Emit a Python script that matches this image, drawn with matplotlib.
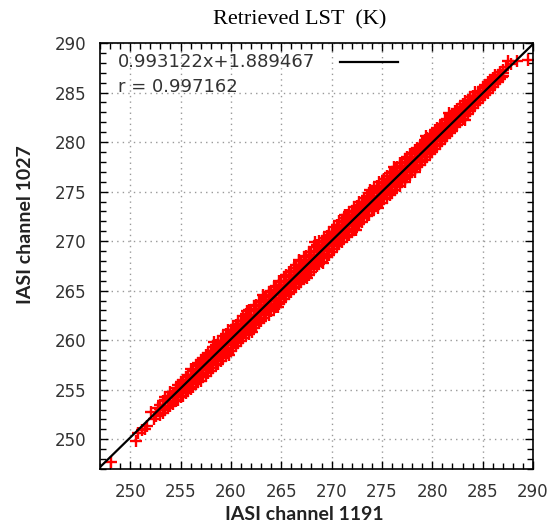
import numpy as np
import matplotlib.pyplot as plt
from matplotlib.ticker import MultipleLocator

# fit results printed in the key
slope = 0.993122
intercept = 1.889467
r_value = 0.997162

# sparse points at the cold end
low_x = [248.1, 250.6, 250.8, 251.5, 251.7, 252.1, 252.4, 252.6, 252.8, 251.2]
low_y = [247.7, 249.8, 250.6, 251.0, 251.3, 252.8, 252.0, 252.4, 253.2, 250.9]

# sparse points at the warm end
high_x = [287.3, 287.5, 288.4, 289.5, 286.9, 287.8]
high_y = [287.6, 288.2, 288.2, 288.3, 286.6, 287.9]

# stray points sticking out of the band
edge_x = [258.3, 261.6, 263.2, 266.8, 268.4, 271.3, 273.8, 276.2, 279.4, 281.7,
          259.8, 264.7, 269.1, 274.6, 278.3, 283.2, 262.1, 267.6, 272.4, 277.3]
edge_y = [259.8, 262.9, 264.6, 268.1, 269.9, 272.6, 275.2, 277.5, 280.6, 282.9,
          258.5, 263.4, 267.8, 273.3, 277.0, 282.2, 260.8, 266.3, 271.1, 276.0]

# dense band: channel 1191 value and the channel 1027 values seen at it
band_x = [
    253.0, 253.25, 253.5, 253.75, 254.0, 254.25, 254.5, 254.75,
    255.0, 255.25, 255.5, 255.75, 256.0, 256.25, 256.5, 256.75,
    257.0, 257.25, 257.5, 257.75, 258.0, 258.25, 258.5, 258.75,
    259.0, 259.25, 259.5, 259.75, 260.0, 260.25, 260.5, 260.75,
    261.0, 261.25, 261.5, 261.75, 262.0, 262.25, 262.5, 262.75,
    263.0, 263.25, 263.5, 263.75, 264.0, 264.25, 264.5, 264.75,
    265.0, 265.25, 265.5, 265.75, 266.0, 266.25, 266.5, 266.75,
    267.0, 267.25, 267.5, 267.75, 268.0, 268.25, 268.5, 268.75,
    269.0, 269.25, 269.5, 269.75, 270.0, 270.25, 270.5, 270.75,
    271.0, 271.25, 271.5, 271.75, 272.0, 272.25, 272.5, 272.75,
    273.0, 273.25, 273.5, 273.75, 274.0, 274.25, 274.5, 274.75,
    275.0, 275.25, 275.5, 275.75, 276.0, 276.25, 276.5, 276.75,
    277.0, 277.25, 277.5, 277.75, 278.0, 278.25, 278.5, 278.75,
    279.0, 279.25, 279.5, 279.75, 280.0, 280.25, 280.5, 280.75,
    281.0, 281.25, 281.5, 281.75, 282.0, 282.25, 282.5, 282.75,
    283.0, 283.25, 283.5, 283.75, 284.0, 284.25, 284.5, 284.75,
    285.0, 285.25, 285.5, 285.75, 286.0, 286.25, 286.5, 286.75,
    287.0,
]
band_y = [
    [252.5, 253.1, 253.5], [252.7, 253.3, 253.9], [253.0, 253.4, 254.0, 254.3], [253.2, 253.8, 254.2],
    [253.4, 253.8, 254.4, 254.8], [253.6, 254.2, 254.6], [253.9, 254.3, 254.9, 255.2], [254.0, 254.6, 255.0, 255.5],
    [254.3, 254.7, 255.3, 255.8], [254.4, 255.0, 255.6, 256.0], [254.7, 255.1, 255.7, 256.3], [254.9, 255.5, 255.9, 256.5],
    [255.1, 255.7, 256.1, 256.5, 257.1], [255.3, 255.9, 256.3, 256.9], [255.6, 256.0, 256.6, 257.0, 257.5], [255.8, 256.2, 256.8, 257.4, 257.7],
    [255.9, 256.5, 257.1, 257.5, 258.0], [256.3, 256.7, 257.3, 257.9, 258.2], [256.4, 257.0, 257.6, 258.0, 258.5], [256.7, 257.3, 257.7, 258.3, 258.7],
    [256.9, 257.5, 257.9, 258.5, 258.9], [257.2, 257.8, 258.3, 258.9, 259.3], [257.5, 258.1, 258.5, 259.1, 259.5], [257.6, 258.2, 258.7, 259.1, 259.6, 259.9],
    [257.9, 258.3, 258.9, 259.5, 259.9], [258.2, 258.8, 259.3, 259.9, 260.4], [258.4, 259.0, 259.6, 260.0, 260.6], [258.7, 259.1, 259.7, 260.2, 260.6, 261.0],
    [258.9, 259.5, 260.0, 260.4, 261.0], [259.2, 259.8, 260.3, 260.8, 261.4], [259.4, 260.1, 260.5, 261.1, 261.5], [259.7, 260.2, 260.6, 261.2, 261.6, 261.9],
    [259.9, 260.3, 260.9, 261.5, 261.9], [260.2, 260.8, 261.3, 261.9, 262.4], [260.5, 261.1, 261.6, 262.0, 262.6], [260.6, 261.2, 261.7, 262.2, 262.5, 263.0],
    [261.0, 261.4, 262.0, 262.4, 263.0], [261.2, 261.8, 262.3, 262.9, 263.5], [261.5, 262.1, 262.5, 263.1, 263.6], [261.7, 262.1, 262.7, 263.2, 263.6, 264.0],
    [261.9, 262.5, 262.9, 263.5, 263.9], [262.2, 262.7, 263.3, 263.9, 264.4], [262.6, 263.0, 263.6, 264.1, 264.5], [262.5, 263.2, 263.7, 264.1, 264.6, 264.9],
    [262.9, 263.5, 264.0, 264.4, 265.0], [263.3, 263.7, 264.3, 264.8, 265.4], [263.4, 264.0, 264.6, 265.1, 265.5], [263.7, 264.2, 264.6, 265.2, 265.6, 266.0],
    [263.9, 264.3, 264.9, 265.5, 265.9], [264.2, 264.8, 265.3, 265.9, 266.4], [264.5, 265.1, 265.6, 266.0, 266.6], [264.7, 265.2, 265.7, 266.1, 266.6, 266.9],
    [264.9, 265.5, 265.9, 266.5, 267.0], [265.3, 265.7, 266.3, 266.9, 267.3], [265.4, 266.0, 266.6, 267.0, 267.6], [265.7, 266.1, 266.7, 267.2, 267.6, 268.0],
    [265.9, 266.5, 267.0, 267.4, 268.0], [266.2, 266.8, 267.3, 267.8, 268.4], [266.5, 267.1, 267.5, 268.1, 268.5], [266.6, 267.2, 267.7, 268.1, 268.6, 268.9],
    [266.9, 267.3, 267.9, 268.5, 268.9], [267.2, 267.8, 268.3, 268.9, 269.4], [267.5, 268.1, 268.6, 269.0, 269.6], [267.7, 268.2, 268.6, 269.2, 269.6, 270.0],
    [267.9, 268.5, 269.0, 269.4, 270.0], [268.3, 268.7, 269.3, 269.9, 270.3], [268.4, 269.0, 269.6, 270.1, 270.5], [268.6, 269.2, 269.7, 270.1, 270.6, 270.9],
    [268.9, 269.5, 269.9, 270.5, 270.9], [269.2, 269.8, 270.3, 270.8, 271.4], [269.5, 270.1, 270.5, 271.1, 271.6], [269.7, 270.1, 270.7, 271.2, 271.6, 272.0],
    [269.9, 270.3, 270.9, 271.5, 272.0], [270.3, 270.8, 271.3, 271.9, 272.3], [270.4, 271.0, 271.6, 272.0, 272.6], [270.6, 271.2, 271.7, 272.1, 272.6, 272.9],
    [270.9, 271.5, 272.0, 272.4, 273.0], [271.2, 271.8, 272.3, 272.9, 273.4], [271.5, 272.1, 272.5, 273.1, 273.5], [271.7, 272.1, 272.7, 273.2, 273.6, 274.0],
    [271.9, 272.5, 272.9, 273.5, 273.9], [272.3, 272.7, 273.3, 273.8, 274.4], [272.5, 273.1, 273.6, 274.0, 274.6], [272.6, 273.2, 273.7, 274.2, 274.6, 274.9],
    [273.0, 273.4, 274.0, 274.4, 275.0], [273.2, 273.8, 274.3, 274.9, 275.4], [273.5, 274.1, 274.5, 275.1, 275.6], [273.7, 274.2, 274.6, 275.2, 275.6, 276.0],
    [273.9, 274.5, 274.9, 275.5, 275.9], [274.3, 274.7, 275.3, 275.9, 276.3], [274.4, 275.0, 275.6, 276.0, 276.6], [274.7, 275.1, 275.7, 276.2, 276.6, 276.9],
    [274.9, 275.5, 276.0, 276.4, 277.0], [275.2, 275.8, 276.3, 276.8, 277.4], [275.5, 276.1, 276.5, 277.1, 277.5], [275.6, 276.2, 276.7, 277.1, 277.6, 277.9],
    [276.0, 276.4, 276.9, 277.5, 277.9], [276.3, 276.7, 277.3, 277.9, 278.3], [276.5, 277.1, 277.5, 278.0, 278.5], [276.7, 277.2, 277.6, 278.2, 278.5, 278.8],
    [277.0, 277.5, 277.9, 278.4, 278.9], [277.3, 277.7, 278.3, 278.9, 279.2], [277.5, 278.1, 278.5, 279.0, 279.4], [277.7, 278.2, 278.6, 279.1, 279.6],
    [278.0, 278.5, 278.9, 279.4, 279.8], [278.2, 278.8, 279.3, 279.7, 280.2], [278.5, 279.0, 279.6, 280.0, 280.4], [278.8, 279.2, 279.7, 280.2, 280.6],
    [279.0, 279.5, 279.9, 280.3, 280.8], [279.3, 279.7, 280.3, 280.8, 281.2], [279.6, 280.1, 280.5, 281.0, 281.4], [279.8, 280.2, 280.8, 281.2, 281.6],
    [280.1, 280.5, 281.0, 281.5, 281.8], [280.4, 280.8, 281.3, 281.7, 282.2], [280.6, 281.1, 281.5, 281.9, 282.3], [280.9, 281.3, 281.7, 282.2, 282.5],
    [281.1, 281.6, 282.0, 282.5, 282.8], [281.5, 281.9, 282.4, 282.7, 283.1], [281.7, 282.2, 282.5, 283.0, 283.3], [282.0, 282.3, 282.8, 283.2, 283.5],
    [282.3, 282.7, 283.1, 283.4, 283.8], [282.6, 283.0, 283.3, 283.7, 284.1], [282.8, 283.2, 283.6, 283.9, 284.2], [283.1, 283.5, 283.8, 284.2, 284.5],
    [283.4, 283.8, 284.1, 284.5, 284.7], [283.7, 284.0, 284.4, 284.7, 285.1], [283.9, 284.3, 284.6, 285.0], [284.2, 284.6, 285.0, 285.2],
    [284.5, 284.9, 285.2, 285.6], [284.8, 285.1, 285.5, 285.8], [285.0, 285.4, 285.7, 286.1], [285.3, 285.7, 286.0, 286.3],
    [285.6, 285.9, 286.3, 286.5], [285.9, 286.2, 286.6, 286.8], [286.1, 286.5, 286.8], [286.4, 286.7, 287.1],
    [286.7, 287.0, 287.3],
]

xs = low_x + high_x + edge_x
ys = low_y + high_y + edge_y
for bx, col in zip(band_x, band_y):
    xs += [bx] * len(col)
    ys += col

fig = plt.figure(figsize=(5.57, 5.27), dpi=100)
ax = fig.add_axes([100 / 557, 58 / 527, 433 / 557, 426 / 527])

ax.plot(xs, ys, '+', color='red', markersize=9, markeredgewidth=1.7, zorder=2)

lx = np.array([247, 290])
ax.plot(lx, slope * lx + intercept, color='black', linewidth=1.6, zorder=3)

ax.set_xlim(247, 290)
ax.set_ylim(247, 290)
ax.xaxis.set_major_locator(MultipleLocator(5))
ax.yaxis.set_major_locator(MultipleLocator(5))
ax.xaxis.set_minor_locator(MultipleLocator(1))
ax.yaxis.set_minor_locator(MultipleLocator(1))
ax.tick_params(which='both', direction='in', top=True, right=True,
               labelsize=12, labelcolor='#333333', width=1)
ax.tick_params(which='major', length=6, pad=10)
ax.tick_params(which='minor', length=4)
for s in ax.spines.values():
    s.set_linewidth(1.2)
ax.grid(True, which='major', linestyle=(0, (1, 3)), color='#999999', linewidth=1)

ax.set_title('Retrieved LST  (K)', family='Liberation Serif', fontsize=16,
             x=0.462, pad=13)
ax.set_xlabel('IASI channel 1191', family='Lato', fontsize=14,
              fontweight='bold', color='#222222', va='center')
ax.set_ylabel('IASI channel 1027', family='Lato', fontsize=14,
              fontweight='bold', color='#222222', va='center', ha='center')
ax.xaxis.set_label_coords(0.473, -0.106)
ax.yaxis.set_label_coords(-0.173, 0.573)

# key: text followed by the line sample, like gnuplot
ax.text(0.042, 0.955, f'{slope:.6f}x+{intercept:.6f}', transform=ax.transAxes,
        fontsize=13, color='#333333', va='center', ha='left')
ax.plot([0.554, 0.688], [0.955, 0.955], color='black', linewidth=1.6,
        transform=ax.transAxes)
ax.text(0.042, 0.897, f'r = {r_value:.6f}', transform=ax.transAxes,
        fontsize=13, color='#333333', va='center', ha='left')

fig.savefig('out.png', dpi=100)
